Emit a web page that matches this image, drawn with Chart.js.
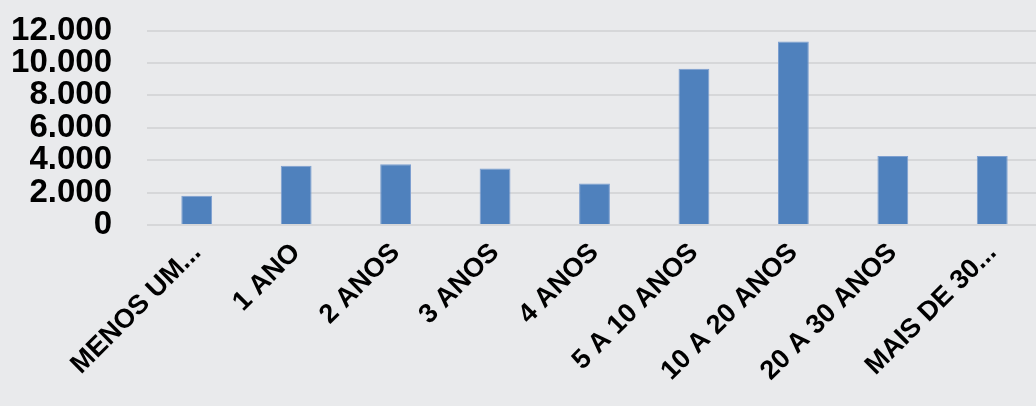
<!DOCTYPE html>
<html>
<head>
<meta charset="utf-8">
<script src="https://cdn.jsdelivr.net/npm/chart.js@4/dist/chart.umd.min.js"></script>
<style>
  html, body { margin: 0; padding: 0; background: #e9eaec; overflow: hidden; }
  #wrap { width: 1042px; height: 427px; margin-top: -21px; }
</style>
</head>
<body>
<div id="wrap"><canvas id="myChart"></canvas></div>
<script>
// data
const categories = ['MENOS UM...', '1 ANO', '2 ANOS', '3 ANOS', '4 ANOS', '5 A 10 ANOS', '10 A 20 ANOS', '20 A 30 ANOS', 'MAIS DE 30...'];
const values = [1800, 3650, 3750, 3490, 2560, 9640, 11320, 4250, 4250];
const yTicks = [0, 2000, 4000, 6000, 8000, 10000, 12000];

const font = "'Liberation Sans Narrow', 'Arial Narrow', 'Liberation Sans', sans-serif";

let ctx = document.getElementById('myChart').getContext('2d');
let myChart = new Chart(ctx, {
    type: 'bar',
    data: {
        labels: categories,
        datasets: [{
            data: values,
            backgroundColor: '#4f81bd',
            borderColor: '#7d9fd0',
            borderWidth: 1,
            barPercentage: 0.31,
            categoryPercentage: 1
        }]
    },
    options: {
        responsive: true,
        maintainAspectRatio: false,
        animation: false,
        layout: { padding: { top: 8, left: 0, right: 0, bottom: 0 } },
        plugins: { legend: { display: false }, tooltip: { enabled: false } },
        scales: {
            x: {
                grid: { display: false, drawTicks: false },
                border: { display: false },
                ticks: {
                    minRotation: 45, maxRotation: 45, autoSkip: false,
                    padding: 12,
                    color: '#000',
                    font: { family: font, size: 27, weight: 'bold' }
                },
                afterFit: s => { s.height = 181; }
            },
            y: {
                min: 0, max: 12000,
                afterBuildTicks: s => { s.ticks = yTicks.map(v => ({ value: v })); },
                grid: { color: '#d6d7d9', lineWidth: 2, drawTicks: false },
                border: { display: false },
                ticks: {
                    autoSkip: false,
                    padding: 35,
                    color: '#000',
                    font: { family: font, size: 33, weight: 'bold', lineHeight: 1 },
                    callback: v => v.toLocaleString('pt-BR')
                },
                afterFit: s => { s.width = 147; }
            }
        }
    }
});
</script>
</body>
</html>
